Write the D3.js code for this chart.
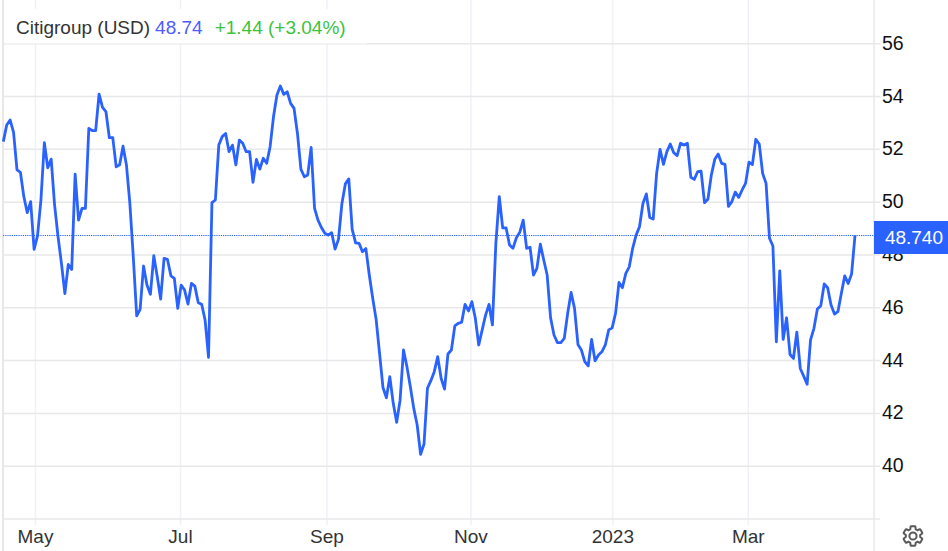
<!DOCTYPE html>
<html><head><meta charset="utf-8">
<script src="https://cdn.jsdelivr.net/npm/d3@7"></script>
<style>html,body{margin:0;padding:0;background:#fff}svg{display:block}text{font-family:"Liberation Sans",Arial,sans-serif}</style>
</head><body><svg id="c" width="948" height="551"></svg>
<script>
const prices=[52.29,52.92,53.11,52.64,51.22,51.13,50.21,49.60,50.02,48.21,48.72,50.08,52.25,51.30,51.63,49.89,48.69,47.68,46.54,47.64,47.45,51.06,49.32,49.76,49.76,52.79,52.71,52.71,54.09,53.59,53.43,52.44,52.44,51.34,51.41,52.12,51.41,49.95,47.93,45.69,45.94,47.58,46.86,46.51,47.97,47.18,46.33,47.87,47.83,47.21,47.11,45.98,46.86,46.67,46.14,46.92,46.82,46.19,46.13,45.53,44.12,49.98,50.08,52.16,52.48,52.60,51.91,52.16,51.41,52.35,52.23,51.91,51.91,50.75,51.62,51.25,51.66,51.47,52.10,53.24,54.06,54.40,54.08,54.18,53.74,53.55,52.60,51.25,50.96,51.03,52.07,49.76,49.32,49.04,48.82,48.75,48.84,48.22,48.60,49.95,50.69,50.88,48.97,48.46,48.44,48.12,48.24,47.24,46.36,45.56,44.27,42.98,42.59,43.39,42.38,41.66,42.50,44.40,43.77,43.01,42.19,41.56,40.45,40.84,42.95,43.24,43.58,44.15,43.33,42.92,44.25,44.40,45.31,45.41,45.45,46.13,45.88,46.23,45.60,44.59,45.16,45.72,46.13,45.35,48.44,50.21,49.03,49.02,48.38,48.25,48.65,48.86,49.32,48.25,48.29,47.24,47.49,48.41,47.81,47.24,45.62,44.97,44.68,44.68,44.84,45.79,46.58,45.98,44.61,44.40,43.96,43.80,44.80,43.99,44.21,44.33,44.59,45.16,45.24,45.79,46.96,46.76,47.30,47.55,48.25,48.75,49.07,49.95,50.31,49.42,49.36,51.09,52.00,51.43,51.91,52.20,51.87,51.76,52.23,52.16,52.23,50.94,50.86,51.15,51.17,49.98,50.11,51.03,51.62,51.82,51.47,51.43,49.84,50.02,50.38,50.18,50.46,50.71,51.51,51.42,52.38,52.20,51.09,50.71,48.63,48.34,44.71,47.40,44.80,45.62,44.23,44.08,45.08,43.70,43.41,43.10,44.78,45.22,45.95,46.08,46.90,46.76,46.10,45.76,45.85,46.54,47.21,46.92,47.28,48.74];
const yTicks=[56,54,52,50,48,46,44,42,40];
const xTickLabels=["May","Jul","Sep","Nov","2023","Mar"];
const xTickIndex=[9.4,51.8,94.6,136.7,178.2,217.8];
const lastPrice=48.74;
const headerName="Citigroup (USD)", headerPrice="48.74", headerChange="+1.44 (+3.04%)";

const svg=d3.select("#c");
const x=d3.scaleLinear().domain([0,prices.length-1]).range([3.3,855]);
const y=d3.scaleLinear().domain([38,54]).range([519,96.5]);

const g=svg.append("g");
g.selectAll(".vg").data(xTickIndex).join("line")
 .attr("x1",d=>x(d)).attr("x2",d=>x(d)).attr("y1",0).attr("y2",525)
 .attr("stroke","#eef2f6").attr("stroke-width",1.5);
g.selectAll(".hg").data(yTicks.concat([38])).join("line")
 .attr("x1",3).attr("x2",880).attr("y1",d=>y(d)).attr("y2",d=>y(d))
 .attr("stroke","#e8e8e8").attr("stroke-width",1.5);
g.append("line").attr("x1",3).attr("x2",3).attr("y1",0).attr("y2",551).attr("stroke","#e8e8e8").attr("stroke-width",2);
g.append("line").attr("x1",874).attr("x2",874).attr("y1",0).attr("y2",551).attr("stroke","#e8e8e8").attr("stroke-width",1.5);
g.append("rect").attr("x",5).attr("y",9).attr("width",362).attr("height",34.5).attr("fill","#fff");

svg.append("line").attr("x1",3).attr("x2",874).attr("y1",235.5).attr("y2",235.5)
 .attr("stroke","#2962ff").attr("stroke-width",1.2).attr("stroke-dasharray","1.2 1");

const line=d3.line().x((d,i)=>x(i)).y(d=>y(d));
svg.append("path").datum(prices).attr("d",line).attr("fill","none")
 .attr("stroke","#2962ff").attr("stroke-width",2.8).attr("stroke-linejoin","round");

svg.selectAll(".yl").data(yTicks).join("text")
 .attr("x",882).attr("y",d=>y(d)+6).attr("font-size",19.5).attr("fill","#111").text(d=>d);
svg.selectAll(".xl").data(xTickLabels).join("text")
 .attr("x",(d,i)=>x(xTickIndex[i])).attr("y",543).attr("text-anchor","middle")
 .attr("font-size",19).attr("fill","#333").text(d=>d);

svg.append("rect").attr("x",874).attr("y",221).attr("width",74).attr("height",33).attr("fill","#2962ff");
svg.append("text").attr("x",943).attr("y",244).attr("text-anchor","end").attr("font-size",19).attr("fill","#fff").text(lastPrice.toFixed(3));

const h=svg.append("text").attr("x",16).attr("y",34).attr("font-size",19);
h.append("tspan").attr("fill","#333").text(headerName);
h.append("tspan").attr("fill","#4d5cff").attr("dx",5).text(headerPrice);
h.append("tspan").attr("fill","#3cc23c").attr("dx",12).text(headerChange);

svg.append("path").attr("transform","translate(901,524)")
 .attr("d","M19.14 12.94c.04-.3.06-.61.06-.94s-.02-.64-.07-.94l2.03-1.58a.5.5 0 0 0 .12-.64l-1.92-3.32a.5.5 0 0 0-.6-.22l-2.39.96a7 7 0 0 0-1.62-.94l-.36-2.54a.5.5 0 0 0-.48-.41h-3.84a.5.5 0 0 0-.47.41l-.36 2.54c-.59.24-1.13.57-1.62.94l-2.39-.96a.5.5 0 0 0-.6.22L2.71 8.84a.5.5 0 0 0 .12.64l2.03 1.58c-.05.3-.09.63-.09.94s.02.64.07.94l-2.03 1.58a.5.5 0 0 0-.12.64l1.92 3.32c.12.22.37.29.6.22l2.39-.96c.5.38 1.03.7 1.62.94l.36 2.54c.05.24.24.41.48.41h3.84c.24 0 .44-.17.47-.41l.36-2.54a7 7 0 0 0 1.62-.94l2.39.96c.22.08.47 0 .59-.22l1.92-3.32a.5.5 0 0 0-.12-.64zM12 15.6a3.6 3.6 0 1 1 0-7.2 3.6 3.6 0 0 1 0 7.2z")
 .attr("fill","none").attr("stroke","#5a5a5a").attr("stroke-width",2);
</script></body></html>
